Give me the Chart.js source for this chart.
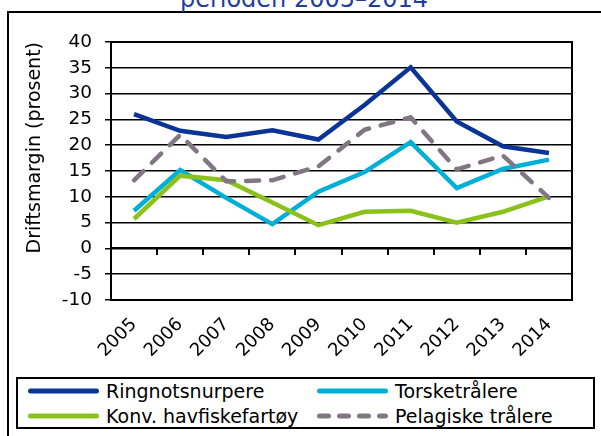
<!DOCTYPE html>
<html>
<head>
<meta charset="utf-8">
<script src="https://cdn.jsdelivr.net/npm/chart.js@4.4.1/dist/chart.umd.min.js"></script>
<style>
  html, body { margin: 0; padding: 0; background: #fff; overflow: hidden; }
  body { width: 601px; height: 436px; position: relative; font-family: "DejaVu Sans", Verdana, sans-serif; }
  #frame { position: absolute; left: 7px; top: 11px; width: 640px; height: 500px; border: 2px solid #000; }
  #title { position: absolute; left: 0; width: 608px; top: -13px; text-align: center; font-size: 24px; line-height: 24px; color: #1f3e9e; white-space: nowrap; }
  #chart { position: absolute; left: 0; top: 0; }
  #legend { position: absolute; left: 16px; top: 377px; width: 579px; height: 52px; box-sizing: border-box; border: 2px solid #000; background: #fff; }
  .item { position: absolute; height: 24px; display: flex; align-items: center; font-size: 19px; white-space: nowrap; color: #000; }
  .item svg { margin-right: 7px; }
</style>
</head>
<body>
<div id="frame"></div>
<div id="title">perioden 2005–2014</div>
<canvas id="chart" width="601" height="436"></canvas>
<div id="legend"></div>
<script>
const years = ['2005', '2006', '2007', '2008', '2009', '2010', '2011', '2012', '2013', '2014'];
const ringnot = [26.0, 22.8, 21.6, 22.9, 21.1, 27.8, 35.1, 24.6, 19.8, 18.5];
const torske = [7.3, 15.2, 9.8, 4.7, 11.0, 14.8, 20.6, 11.7, 15.4, 17.2];
const konv = [5.7, 14.1, 13.2, 8.9, 4.5, 7.1, 7.3, 5.0, 7.1, 10.1];
const pelagisk = [13.2, 22.0, 13.0, 13.2, 15.9, 23.0, 25.4, 15.3, 18.0, 9.8];

const seriesNames = ['Ringnotsnurpere', 'Torsketrålere', 'Konv. havfiskefartøy', 'Pelagiske trålere'];
const seriesColors = ['#0a3496', '#00afd8', '#8bc11b', '#807782'];

Chart.defaults.font.family = '"DejaVu Sans", Verdana, sans-serif';
Chart.defaults.color = '#000';

// black box round the plot area, plus the small ticks hanging under the zero line
const plotFrame = {
  id: 'plotFrame',
  afterDatasetsDraw(chart) {
    const { ctx, chartArea: a, scales } = chart;
    const xs = scales.x;
    const y0 = Math.round(scales.y.getPixelForValue(0));
    const step = (xs.right - xs.left) / xs.ticks.length;
    ctx.save();
    ctx.strokeStyle = '#000';
    ctx.lineWidth = 2;
    ctx.beginPath();
    for (let i = 0; i <= xs.ticks.length; i++) {
      const px = Math.round(xs.left + i * step);
      ctx.moveTo(px, y0);
      ctx.lineTo(px, y0 + 7);
    }
    ctx.stroke();
    ctx.restore();
  },
  beforeDatasetsDraw(chart) {
    const { ctx, chartArea: a, scales } = chart;
    const y0 = Math.round(scales.y.getPixelForValue(0));
    ctx.save();
    ctx.strokeStyle = '#000';
    ctx.lineWidth = 2;
    ctx.strokeRect(a.left, a.top, a.right - a.left, a.bottom - a.top);
    ctx.beginPath();
    ctx.moveTo(a.left, y0);
    ctx.lineTo(a.right, y0);
    ctx.stroke();
    ctx.restore();
  }
};

function line(label, data, color, order, dash) {
  return {
    label: label,
    data: data,
    borderColor: color,
    backgroundColor: color,
    borderWidth: 4.5,
    borderDash: dash || [],
    borderCapStyle: dash ? 'round' : 'butt',
    pointRadius: 0,
    pointHoverRadius: 0,
    tension: 0,
    order: order
  };
}

const chart = new Chart(document.getElementById('chart'), {
  type: 'line',
  data: {
    labels: years,
    datasets: [
      line(seriesNames[0], ringnot, seriesColors[0], 4),
      line(seriesNames[1], torske, seriesColors[1], 3),
      line(seriesNames[2], konv, seriesColors[2], 2),
      line(seriesNames[3], pelagisk, seriesColors[3], 1, [13, 12])
    ]
  },
  options: {
    responsive: false,
    animation: false,
    layout: { padding: { top: 42, right: 29, bottom: 66, left: 0 } },
    plugins: {
      legend: { display: false },
      tooltip: { enabled: false }
    },
    scales: {
      x: {
        position: 'bottom',
        offset: true,
        grid: { display: false, drawTicks: false },
        border: { display: false },
        ticks: { autoSkip: false, minRotation: 45, maxRotation: 45, padding: 14, font: { size: 18 } },
        afterFit: (scale) => { scale.height = 70; }
      },
      y: {
        min: -10,
        max: 40,
        grid: { color: '#000', lineWidth: 1.5, tickLength: 6 },
        border: { display: false },
        ticks: { stepSize: 5, padding: 13, font: { size: 18.5 } },
        title: {
          display: true,
          text: 'Driftsmargin (prosent)',
          align: 'end',
          font: { size: 19 },
          padding: { top: 24, bottom: 0 }
        },
        afterFit: (scale) => { scale.width = 111; }
      }
    }
  },
  plugins: [plotFrame]
});

// legend in two columns, built from the datasets
const legend = document.getElementById('legend');
const cols = [10, 299];
chart.data.datasets.forEach((ds, i) => {
  const item = document.createElement('div');
  item.className = 'item';
  item.style.left = cols[i % 2] + 'px';
  item.style.top = (Math.floor(i / 2) * 25) + 'px';
  const dash = ds.borderDash.length ? ' stroke-dasharray="9 11"' : '';
  item.innerHTML =
    '<svg width="71" height="10"><line x1="2.5" y1="5" x2="68.5" y2="5" stroke="' + ds.borderColor +
    '" stroke-width="5" stroke-linecap="round"' + dash + '/></svg><span>' + ds.label + '</span>';
  legend.appendChild(item);
});
</script>
</body>
</html>
